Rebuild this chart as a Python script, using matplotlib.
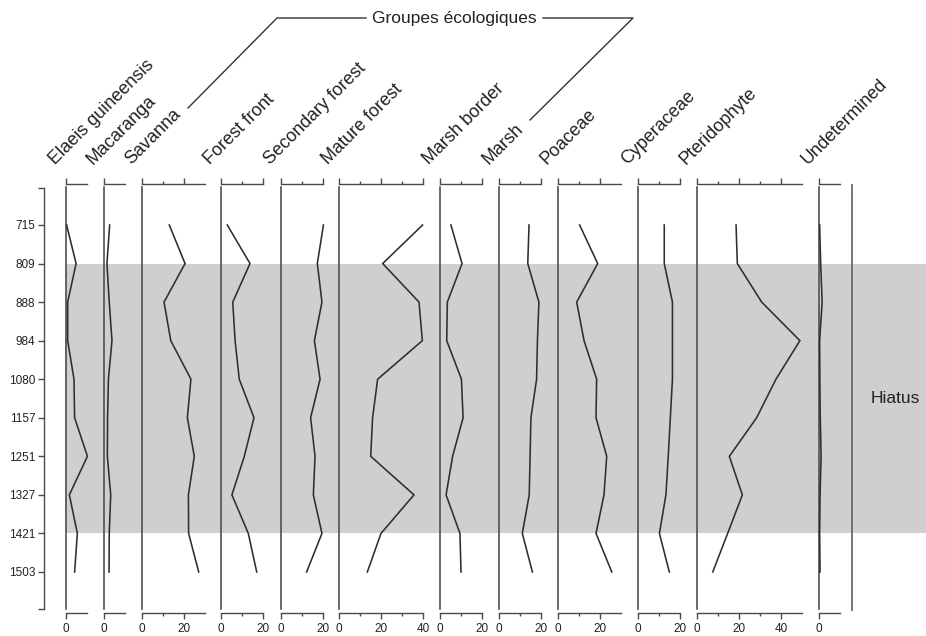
import matplotlib
matplotlib.use('Agg')
import matplotlib.pyplot as plt
from matplotlib.lines import Line2D

plt.rcParams['font.family'] = ['Liberation Sans', 'DejaVu Sans']

# ---------------- data ----------------
ages = [715, 809, 888, 984, 1080, 1157, 1251, 1327, 1421, 1503]
hiatus_start, hiatus_end = 809, 1421

elaeis = [0.3, 4.8, 0.8, 0.8, 3.8, 4.1, 10.2, 1.6, 5.4, 4.1]
macaranga = [2.7, 1.4, 2.5, 3.8, 2.1, 1.7, 1.6, 3.2, 2.5, 2.4]
savanna = [13.0, 20.5, 10.5, 13.7, 23.3, 21.6, 24.9, 22.1, 22.2, 27.0]
forest_front = [3.0, 13.8, 5.6, 6.7, 8.7, 15.7, 11.1, 5.2, 13.0, 17.0]
secondary_forest = [20.2, 17.3, 19.5, 15.9, 18.6, 14.1, 16.2, 15.4, 19.5, 12.2]
mature_forest = [39.8, 20.8, 38.1, 39.7, 18.4, 16.0, 15.1, 35.7, 20.0, 13.5]
marsh_border = [5.2, 10.5, 3.5, 3.2, 10.2, 11.0, 6.0, 2.9, 9.5, 10.0]
marsh = [14.3, 13.7, 19.0, 18.3, 17.9, 15.2, 14.8, 14.4, 11.1, 15.9]
poaceae = [10.3, 18.9, 8.9, 12.4, 18.4, 18.1, 23.2, 21.9, 18.1, 25.6]
cyperaceae = [12.5, 12.5, 16.4, 16.4, 16.4, 15.4, 14.4, 13.3, 10.2, 14.9]
pteridophyte = [18.6, 19.2, 30.8, 49.0, 37.6, 28.4, 15.4, 21.6, 14.6, 7.5]
undetermined = [0.3, 0.8, 1.5, 0.3, 0.4, 0.6, 1.0, 0.5, 0.3, 0.5]

names = ['Elaeis guineensis', 'Macaranga', 'Savanna', 'Forest front',
         'Secondary forest', 'Mature forest', 'Marsh border', 'Marsh',
         'Poaceae', 'Cyperaceae', 'Pteridophyte', 'Undetermined']
series = [elaeis, macaranga, savanna, forest_front, secondary_forest,
          mature_forest, marsh_border, marsh, poaceae, cyperaceae,
          pteridophyte, undetermined]
scale_max = [10, 10, 30, 20, 20, 40, 20, 20, 30, 20, 50, 10]

group_title = 'Groupes écologiques'
hiatus_label = 'Hiatus'

# ---------------- layout ----------------
W, H = 926, 636
fig = plt.figure(figsize=(W / 100, H / 100), dpi=100)

zeros_px = [66, 104, 142, 221, 281, 339, 440, 499, 558, 638, 697, 819]
px_per_unit = 2.1
top_px, bot_px = 184, 613
row0_px, row_step = 225, 38.55

ax_bottom = 1 - bot_px / H
ax_height = (bot_px - top_px) / H
ylim = ((bot_px - row0_px) / row_step, (top_px - row0_px) / row_step)
idx = list(range(len(ages)))

axis_col = '#4a4a4a'
line_col = '#2e2e2e'
band_col = '#cfcfcf'

# background axes for the hiatus band
bg = fig.add_axes([65 / W, ax_bottom, (W - 65) / W, ax_height], zorder=0)
bg.set_xlim(0, 1)
bg.set_ylim(*ylim)
bg.axis('off')
bg.axhspan(ages.index(hiatus_start), ages.index(hiatus_end), color=band_col, lw=0)
bg.axvline((852 - 65) / (W - 65), ymin=(bot_px - 610) / (bot_px - top_px),
           ymax=(bot_px - 185) / (bot_px - top_px), color='#6a6a6a', lw=1.3)
bg.text((895 - 65) / (W - 65),
        (ages.index(hiatus_start) + ages.index(hiatus_end)) / 2,
        hiatus_label, ha='center', va='center', fontsize=12.5, color='#222222')

# left age axis
ay = fig.add_axes([44 / W, ax_bottom, 0.0001, ax_height], zorder=2)
ay.patch.set_visible(False)
ay.set_ylim(*ylim)
for s in ['top', 'bottom', 'right']:
    ay.spines[s].set_visible(False)
ay.spines['left'].set_color(axis_col)
ay.spines['left'].set_linewidth(1.0)
lo, hi = -0.96, 9.96
ay.spines['left'].set_bounds(lo, hi)
ay.set_xticks([])
ay.set_yticks(idx)
ay.set_yticklabels([str(a) for a in ages])
ay.set_yticks([lo, hi], minor=True)
ay.tick_params(axis='y', which='major', length=4.3, width=1.0, color=axis_col,
               labelsize=8.5, pad=2, labelcolor='#222222')
ay.tick_params(axis='y', which='minor', length=4.3, width=1.0, color=axis_col)

# panels
for name, vals, mx, z in zip(names, series, scale_max, zeros_px):
    ax = fig.add_axes([z / W, ax_bottom, mx * px_per_unit / W, ax_height], zorder=1)
    ax.patch.set_visible(False)
    ax.set_xlim(0, mx)
    ax.set_ylim(*ylim)
    for s in ['left', 'right']:
        ax.spines[s].set_visible(False)
    for s in ['top', 'bottom']:
        ax.spines[s].set_color(axis_col)
        ax.spines[s].set_linewidth(1.0)
    ax.set_yticks([])
    majors = [v for v in range(0, mx + 1, 20)]
    minors = [v for v in range(10, mx, 20)]
    ax.set_xticks(majors)
    ax.set_xticklabels([str(v) for v in majors])
    ax.set_xticks(minors, minor=True)
    ax.tick_params(axis='x', which='both', direction='out', top=True, bottom=True,
                   labeltop=False, labelbottom=True, color=axis_col, width=1.0)
    ax.tick_params(axis='x', which='major', length=4.3, labelsize=8.5, pad=3,
                   labelcolor='#222222')
    ax.tick_params(axis='x', which='minor', length=2.5)
    ax.axvline(0, ymin=(bot_px - 609) / (bot_px - top_px),
               ymax=(bot_px - 187) / (bot_px - top_px), color='#505050', lw=1.2,
               clip_on=False)
    ax.plot(vals, idx, color=line_col, lw=1.15, solid_joinstyle='miter',
            clip_on=False)
    fig.text((z - 11) / W, 1 - 165 / H, name, rotation=45, rotation_mode='anchor',
             ha='left', va='baseline', fontsize=13, color='#222222')

# group header
fig.text(454 / W, 1 - 19 / H, group_title, ha='center', va='center',
         fontsize=12.5, color='#222222')


def fig_line(pts):
    xs = [p[0] / W for p in pts]
    ys = [1 - p[1] / H for p in pts]
    fig.add_artist(Line2D(xs, ys, color='#333333', lw=1.0))


fig_line([(366, 18), (277, 18), (188, 108)])
fig_line([(543, 18), (633, 18), (530, 120)])

fig.savefig('out.png', dpi=100)
